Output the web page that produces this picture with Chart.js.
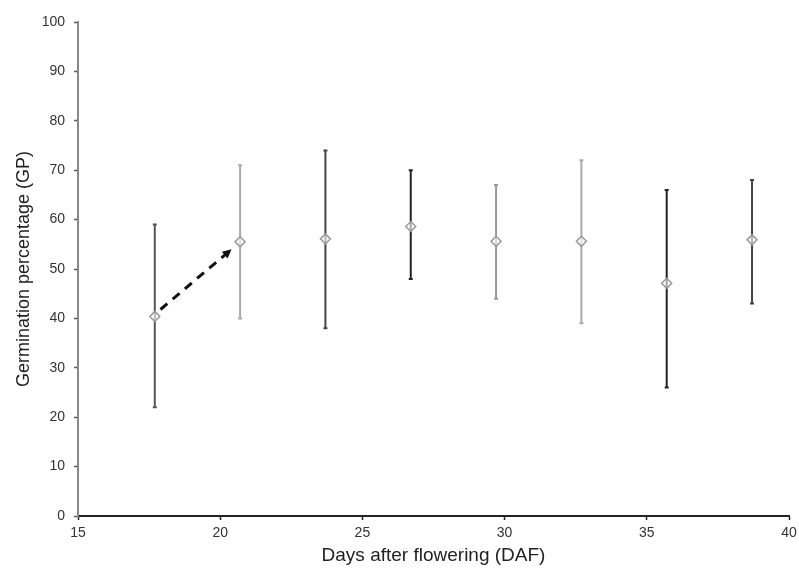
<!DOCTYPE html>
<html>
<head>
<meta charset="utf-8">
<script src="https://cdn.jsdelivr.net/npm/chart.js@4/dist/chart.umd.min.js"></script>
<style>
  html, body { margin: 0; padding: 0; background: #fff; }
  #wrap { width: 799px; height: 571px; position: relative; }
</style>
</head>
<body>
<div id="wrap"><canvas id="chartEl"></canvas></div>
<script>
/************ DATA ************/
const daf = [17.7, 20.7, 23.7, 26.7, 29.7, 32.7, 35.7, 38.7];
const gpMean = [40.4, 55.5, 56.1, 58.6, 55.6, 55.6, 47.1, 55.9];
const gpHigh = [59, 71, 74, 70, 67, 72, 66, 68];
const gpLow = [22, 40, 38, 48, 44, 39, 26, 43];
const xTicks = [15, 20, 25, 30, 35, 40];
const yTicks = [0, 10, 20, 30, 40, 50, 60, 70, 80, 90, 100];
// dashed arrow from first point towards second (data coords)
const arrowFrom = [17.9, 41.8];
const arrowTo = [20.4, 54.0];

/************ STYLE ************/
const barColors = ["#555", "#aaa", "#444", "#222", "#999", "#aaa", "#222", "#444"];
const FONT = "'Liberation Sans', Arial, sans-serif";

/************ PLUGINS ************/
const errorBars = {
    id: "errorBars",
    beforeDatasetsDraw(chart) {
        const { ctx, scales: { x, y } } = chart;
        ctx.save();
        ctx.lineWidth = 2;
        daf.forEach((d, i) => {
            const px = x.getPixelForValue(d);
            const top = y.getPixelForValue(gpHigh[i]);
            const bot = y.getPixelForValue(gpLow[i]);
            ctx.strokeStyle = barColors[i];
            ctx.beginPath();
            ctx.moveTo(px, top);
            ctx.lineTo(px, bot);
            ctx.moveTo(px - 2, top);
            ctx.lineTo(px + 2, top);
            ctx.moveTo(px - 2, bot);
            ctx.lineTo(px + 2, bot);
            ctx.stroke();
        });
        ctx.restore();
    }
};

const arrow = {
    id: "arrow",
    afterDatasetsDraw(chart) {
        const { ctx, scales: { x, y } } = chart;
        const x1 = x.getPixelForValue(arrowFrom[0]), y1 = y.getPixelForValue(arrowFrom[1]);
        const x2 = x.getPixelForValue(arrowTo[0]), y2 = y.getPixelForValue(arrowTo[1]);
        const ang = Math.atan2(y2 - y1, x2 - x1);
        const head = 10;
        ctx.save();
        ctx.strokeStyle = "#111";
        ctx.fillStyle = "#111";
        ctx.lineWidth = 3;
        ctx.setLineDash([9, 7]);
        ctx.beginPath();
        ctx.moveTo(x1, y1);
        ctx.lineTo(x2 - Math.cos(ang) * head * 0.8, y2 - Math.sin(ang) * head * 0.8);
        ctx.stroke();
        ctx.setLineDash([]);
        ctx.beginPath();
        ctx.moveTo(x2, y2);
        ctx.lineTo(x2 - head * Math.cos(ang - 0.45), y2 - head * Math.sin(ang - 0.45));
        ctx.lineTo(x2 - head * Math.cos(ang + 0.45), y2 - head * Math.sin(ang + 0.45));
        ctx.closePath();
        ctx.fill();
        ctx.restore();
    }
};

/************ CHART ************/
new Chart(chartEl, {
    type: "scatter",
    data: {
        datasets: [{
            data: daf.map((d, i) => ({ x: d, y: gpMean[i] })),
            pointStyle: "rectRot",
            pointRadius: 5,
            pointBorderWidth: 1.5,
            pointBorderColor: "#999",
            pointBackgroundColor: "rgba(255,255,255,0.6)"
        }]
    },
    options: {
        responsive: true,
        maintainAspectRatio: false,
        animation: false,
        layout: { padding: { top: 22, right: 0, left: 0, bottom: 0 } },
        plugins: { legend: { display: false }, tooltip: { enabled: false } },
        scales: {
            x: {
                type: "linear",
                min: 15,
                max: 40,
                afterBuildTicks: s => { s.ticks = xTicks.map(v => ({ value: v })); },
                afterFit: s => { s.height = 55; s.paddingRight = 10; },
                grid: { drawOnChartArea: false, drawTicks: true, tickLength: 4, color: "#222", tickWidth: 1.5 },
                border: { color: "#222", width: 2 },
                ticks: { color: "#333", font: { family: FONT, size: 14 }, padding: 5 },
                title: { display: true, text: "Days after flowering (DAF)", color: "#222",
                         font: { family: FONT, size: 19 }, padding: { top: 0 } }
            },
            y: {
                min: 0,
                max: 100,
                afterBuildTicks: s => { s.ticks = yTicks.map(v => ({ value: v })); },
                afterFit: s => { s.width = 78; },
                grid: { drawOnChartArea: false, drawTicks: true, tickLength: 4, color: "#555", tickWidth: 1.5 },
                border: { color: "#888", width: 2 },
                ticks: { color: "#333", font: { family: FONT, size: 14 }, padding: 9 },
                title: { display: true, text: "Germination percentage (GP)", color: "#222",
                         font: { family: FONT, size: 18 }, padding: { top: 13, bottom: 0 } }
            }
        }
    },
    plugins: [errorBars, arrow]
});
</script>
</body>
</html>
